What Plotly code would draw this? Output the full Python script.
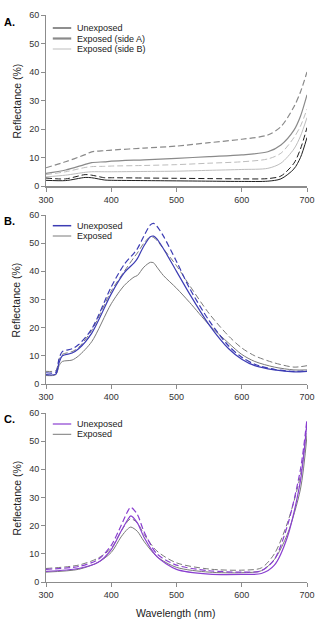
import plotly.graph_objects as go

# ---------------- DATA ----------------
# Panel A
a_wl = [300, 330, 360, 370, 390, 400, 450, 500, 550, 600, 640, 660, 680, 690, 700]
a_unexp = [2.0, 1.9, 3.0, 2.9, 2.1, 2.0, 1.9, 1.8, 1.7, 1.6, 1.7, 2.5, 6.0, 10.0, 17.0]
a_unexp_d = [2.8, 2.5, 4.0, 3.8, 2.9, 2.9, 2.8, 2.7, 2.6, 2.5, 2.6, 3.5, 8.0, 13.0, 20.5]
a_sideA = [4.4, 5.6, 7.6, 8.2, 8.5, 8.7, 9.2, 9.7, 10.3, 10.9, 12.0, 14.4, 19.6, 24.5, 32.0]
a_sideA_d = [6.4, 8.5, 11.0, 12.0, 12.4, 12.6, 13.3, 14.0, 15.2, 16.4, 17.9, 20.8, 27.8, 33.0, 40.0]
a_sideB = [3.2, 3.8, 4.8, 5.0, 5.0, 5.0, 5.1, 5.2, 5.5, 5.8, 6.2, 8.0, 13.0, 17.5, 24.0]
a_sideB_d = [4.0, 5.0, 6.5, 6.8, 6.9, 7.0, 7.2, 7.5, 8.0, 8.5, 9.5, 11.5, 17.0, 21.0, 27.0]

# Panel B
b_wl = [300, 315, 320, 325, 340, 350, 370, 400, 420, 435, 440, 450, 460, 465, 470, 480,
        500, 520, 550, 580, 600, 620, 650, 680, 700]
b_unexp = [3.3, 3.5, 7.5, 10.0, 11.0, 12.5, 18.0, 32.0, 39.5, 43.0, 44.5, 49.0, 52.3, 52.5,
           51.5, 48.0, 40.0, 32.0, 21.0, 12.5, 8.8, 6.5, 5.0, 4.3, 4.5]
b_unexp_d = [4.0, 4.2, 9.0, 11.5, 12.5, 14.0, 19.5, 34.5, 42.5, 46.5, 48.0, 52.5, 56.5, 57.0,
             56.0, 52.5, 43.5, 34.0, 22.5, 13.5, 9.5, 7.0, 5.2, 4.5, 4.7]
b_exp = [3.0, 3.3, 6.5, 8.0, 8.5, 10.0, 15.0, 28.5, 35.0, 38.0, 38.5, 41.5, 43.2, 43.0,
         41.5, 38.5, 34.0, 29.0, 21.0, 14.5, 10.5, 8.0, 6.0, 5.0, 5.0]
b_exp_d = [4.5, 4.8, 8.5, 10.5, 11.5, 13.0, 19.0, 33.0, 40.0, 45.0, 46.5, 50.0, 52.3, 52.0,
           51.0, 48.0, 42.0, 35.0, 25.0, 17.0, 12.8, 10.0, 7.5, 6.0, 6.5]

# Panel C
c_wl = [300, 350, 380, 400, 415, 425, 430, 440, 450, 470, 500, 550, 600, 630, 650, 670, 690, 700]
c_unexp = [3.8, 4.8, 7.0, 11.5, 18.0, 22.0, 23.5, 21.0, 16.0, 9.0, 4.5, 2.8, 2.7, 3.0, 6.0, 16.0, 36.0, 57.0]
c_unexp_d = [4.5, 5.5, 8.0, 13.0, 20.0, 25.0, 26.5, 24.0, 18.0, 10.0, 6.0, 4.0, 3.5, 4.0, 8.0, 20.0, 40.0, 58.0]
c_exp = [3.5, 4.5, 7.0, 10.5, 16.0, 18.8, 19.5, 18.0, 14.5, 9.0, 5.2, 3.5, 3.3, 4.0, 8.0, 17.0, 33.0, 52.0]
c_exp_d = [4.8, 6.0, 8.5, 12.0, 18.0, 21.5, 22.5, 21.0, 17.0, 11.0, 6.8, 4.6, 4.2, 5.0, 10.0, 21.0, 38.0, 56.0]

x_ticks = [300, 400, 500, 600, 700]
y_ticks = [0, 10, 20, 30, 40, 50, 60]
panel_labels = ["A.", "B.", "C."]
legend_a = ["Unexposed", "Exposed (side A)", "Exposed (side B)"]
legend_bc = ["Unexposed", "Exposed"]
y_title = "Reflectance (%)"
x_title = "Wavelength (nm)"

# ---------------- STYLE ----------------
FONT = "Arial, Liberation Sans, sans-serif"
BLACK = "#1e1e1e"
GRAY_A = "#8a8a8a"
GRAY_B = "#bdbdbd"
BLUE = "#3c3cb4"
PURPLE = "#8a3fd0"
GRAY = "#7a7a7a"

W, H = 324, 622
L, R, T, B = 46, 9, 15, 40
PW = W - L - R
PH = H - T - B
# pixel extents of each panel (top, bottom)
panels_px = [(15, 186), (215, 384), (413, 582)]


def dom(top, bot):
    return [(H - B - bot) / PH, (H - B - top) / PH]


fig = go.Figure()


def add(x, y, color, width, dash, ax):
    fig.add_trace(go.Scatter(
        x=x, y=y, mode="lines", xaxis="x" + ax, yaxis="y" + ax,
        line=dict(color=color, width=width, dash=dash, shape="spline", smoothing=0.8),
        showlegend=False, hoverinfo="skip"))


dash = "6px,3px"
# Panel A (axes 1)
add(a_wl, a_sideA_d, GRAY_A, 1.2, dash, "")
add(a_wl, a_sideA, GRAY_A, 1.2, "solid", "")
add(a_wl, a_sideB_d, GRAY_B, 1.0, dash, "")
add(a_wl, a_sideB, GRAY_B, 1.0, "solid", "")
add(a_wl, a_unexp_d, BLACK, 1.0, dash, "")
add(a_wl, a_unexp, BLACK, 1.0, "solid", "")
# Panel B (axes 2)
add(b_wl, b_exp_d, GRAY, 1.0, dash, "2")
add(b_wl, b_exp, GRAY, 1.0, "solid", "2")
add(b_wl, b_unexp_d, BLUE, 1.2, dash, "2")
add(b_wl, b_unexp, BLUE, 1.2, "solid", "2")
# Panel C (axes 3)
add(c_wl, c_exp_d, GRAY, 1.0, dash, "3")
add(c_wl, c_exp, GRAY, 1.0, "solid", "3")
add(c_wl, c_unexp_d, PURPLE, 1.2, dash, "3")
add(c_wl, c_unexp, PURPLE, 1.2, "solid", "3")

axis_common = dict(
    showline=True, linecolor="#8c8c8c", linewidth=1, ticks="outside",
    ticklen=4, tickcolor="#8c8c8c", showgrid=False, zeroline=False,
    tickfont=dict(family=FONT, size=9, color="#333333"),
)

layout = dict(
    width=W, height=H, margin=dict(l=L, r=R, t=T, b=B),
    paper_bgcolor="white", plot_bgcolor="white", showlegend=False,
    font=dict(family=FONT),
)
for i, (top, bot) in enumerate(panels_px):
    suf = "" if i == 0 else str(i + 1)
    layout["xaxis" + suf] = dict(axis_common, range=[300, 700], tickvals=x_ticks,
                                 domain=[0, 1], anchor="y" + suf)
    layout["yaxis" + suf] = dict(axis_common, range=[0, 60], tickvals=y_ticks,
                                 domain=dom(top, bot), anchor="x" + suf)
fig.update_layout(**layout)
fig.update_layout(xaxis=dict(linewidth=2))

annotations = []
shapes = []


def px_to_paper_x(px):
    return (px - L) / PW


def px_to_paper_y(py):
    return (H - B - py) / PH


# panel labels and y titles
label_y = [22, 221, 419]
for i, (top, bot) in enumerate(panels_px):
    annotations.append(dict(text="<b>%s</b>" % panel_labels[i], xref="paper", yref="paper",
                            x=px_to_paper_x(1), y=px_to_paper_y(label_y[i]),
                            xanchor="left", yanchor="middle", showarrow=False,
                            font=dict(family=FONT, size=11, color="#000")))
    annotations.append(dict(text=y_title, xref="paper", yref="paper",
                            x=px_to_paper_x(16), y=px_to_paper_y((top + bot) / 2),
                            xanchor="center", yanchor="middle", textangle=-90, showarrow=False,
                            font=dict(family=FONT, size=10.5, color="#222")))
annotations.append(dict(text=x_title, xref="paper", yref="paper",
                        x=px_to_paper_x(180), y=px_to_paper_y(613),
                        xanchor="center", yanchor="middle", showarrow=False,
                        font=dict(family=FONT, size=10.5, color="#222")))

# manual legends
legend_items = [
    (legend_a, [(BLACK, 1.0), (GRAY_A, 2.2), (GRAY_B, 1.0)], [28, 38.5, 49]),
    (legend_bc, [(BLUE, 1.5), (GRAY, 1.0)], [225.7, 236]),
    (legend_bc, [(PURPLE, 1.2), (GRAY, 1.0)], [424, 434.3]),
]
for labels, styles, ys in legend_items:
    for lab, (col, w), py in zip(labels, styles, ys):
        yy = px_to_paper_y(py)
        shapes.append(dict(type="line", xref="paper", yref="paper",
                           x0=px_to_paper_x(53), x1=px_to_paper_x(72), y0=yy, y1=yy,
                           line=dict(color=col, width=w)))
        annotations.append(dict(text=lab, xref="paper", yref="paper",
                                x=px_to_paper_x(75.5), y=yy, xanchor="left", yanchor="middle",
                                showarrow=False, font=dict(family=FONT, size=9, color="#222")))

fig.update_layout(annotations=annotations, shapes=shapes)
fig.write_html("out.html")
